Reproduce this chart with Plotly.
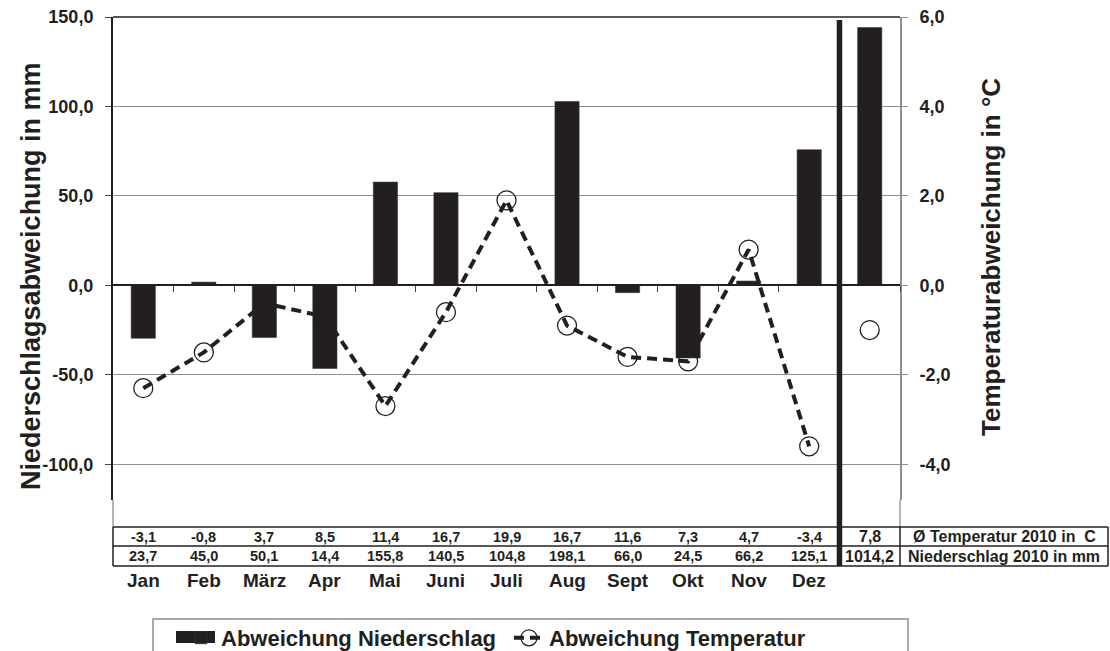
import plotly.graph_objects as go

# ---------------- data ----------------
months = ["Jan", "Feb", "März", "Apr", "Mai", "Juni", "Juli", "Aug", "Sept", "Okt", "Nov", "Dez"]
precip_dev = [-29.6, 1.8, -29.2, -46.5, 57.7, 51.8, 0.4, 102.8, -4.1, -40.6, 2.4, 75.8]
precip_dev_year = 144.1
temp_dev = [-2.3, -1.5, -0.4, -0.7, -2.7, -0.6, 1.9, -0.9, -1.6, -1.7, 0.8, -3.6]
temp_dev_year = -1.0
temp_2010 = [-3.1, -0.8, 3.7, 8.5, 11.4, 16.7, 19.9, 16.7, 11.6, 7.3, 4.7, -3.4]
temp_2010_year = 7.8
precip_2010 = [23.7, 45.0, 50.1, 14.4, 155.8, 140.5, 104.8, 198.1, 66.0, 24.5, 66.2, 125.1]
precip_2010_year = 1014.2
row_labels = ["Ø Temperatur 2010 in\u00a0\u00a0C", "Niederschlag 2010 in mm"]
left_tickvals = [150, 100, 50, 0, -50, -100]
right_tickvals = [6, 4, 2, 0, -2, -4]
series_names = ["Abweichung Niederschlag", "Abweichung Temperatur"]
y_titles = ["Niederschlagsabweichung in mm", "Temperaturabweichung in °C"]

# ---------------- layout geometry ----------------
W, H = 1110, 651
PL, PR, PT, PB = 113, 900, 17, 500          # plot area in pixels
YR = [-120, 150]
Y2R = [-4.8, 6]
n_cat = len(months) + 1
XR = [-0.5, n_cat - 0.5]

FONT = "Liberation Sans, Arial, sans-serif"
INK = "#231f20"
GRAY = "#8f8f8f"


def px_x(p):
    return (p - PL) / (PR - PL)


def px_y(p):
    return (PB - p) / (PB - PT)


def fmt(v):
    return f"{v:.1f}".replace(".", ",")


cats = list(range(n_cat))

fig = go.Figure()

fig.add_trace(go.Bar(
    x=cats,
    y=precip_dev + [precip_dev_year],
    width=0.4,
    marker=dict(color=INK, line=dict(color="#3a3a3a", width=0.6)),
    name=series_names[0],
))

marker_style = dict(symbol="circle-open", size=19, color=INK, line=dict(width=1.3))

fig.add_trace(go.Scatter(
    x=cats[:len(months)],
    y=temp_dev,
    yaxis="y2",
    mode="lines+markers",
    line=dict(color=INK, width=4, dash="10px,6px"),
    marker=marker_style,
    name=series_names[1],
))

fig.add_trace(go.Scatter(
    x=[cats[-1]],
    y=[temp_dev_year],
    yaxis="y2",
    mode="markers",
    marker=marker_style,
    showlegend=False,
))

# ---------------- shapes ----------------
shapes = []
line_k = dict(color=INK, width=1.5)
# top border
shapes.append(dict(type="line", xref="paper", yref="paper", x0=0, x1=1, y0=1, y1=1, line=line_k))
# axis extensions down to the table
for xp in (0, 1):
    shapes.append(dict(type="line", xref="paper", yref="paper", x0=xp, x1=xp,
                       y0=px_y(PB), y1=px_y(527), line=dict(color=GRAY, width=1.3)))
# table horizontal lines
for yy in (527, 546, 566):
    shapes.append(dict(type="line", xref="paper", yref="paper", x0=0, x1=px_x(1108),
                       y0=px_y(yy), y1=px_y(yy), line=line_k))
# table vertical lines
for xx in (PL, PR, 1108):
    shapes.append(dict(type="line", xref="paper", yref="paper", x0=px_x(xx), x1=px_x(xx),
                       y0=px_y(527), y1=px_y(566), line=line_k))
# thick separator between months and the year column
sep = (len(months)) / n_cat
shapes.append(dict(type="line", xref="paper", yref="paper", x0=sep, x1=sep,
                   y0=px_y(20), y1=px_y(566), line=dict(color=INK, width=5.5)))
# legend frame
shapes.append(dict(type="rect", xref="paper", yref="paper", x0=px_x(153), x1=px_x(908),
                   y0=px_y(619), y1=px_y(680), line=dict(color=GRAY, width=1.5)))
# wide swatch for the bar legend entry (as in the original legend)
shapes.append(dict(type="rect", xref="paper", yref="paper", x0=px_x(176), x1=px_x(215),
                   y0=px_y(643), y1=px_y(631), line=dict(width=0), fillcolor=INK))

# ---------------- annotations ----------------
ann = []
for i, m in enumerate(months):
    ann.append(dict(x=i, y=px_y(580), xref="x", yref="paper", text=m, showarrow=False,
                    xanchor="center", yanchor="middle",
                    font=dict(family=FONT, size=19, color=INK, weight="bold")))
row_y = [px_y(536.5), px_y(556)]
for r, (vals, yv, year_val) in enumerate([(temp_2010, row_y[0], temp_2010_year),
                                          (precip_2010, row_y[1], precip_2010_year)]):
    for i, v in enumerate(vals):
        ann.append(dict(x=i, y=yv, xref="x", yref="paper", text=fmt(v), showarrow=False,
                        xanchor="center", yanchor="middle",
                        font=dict(family=FONT, size=14.5, color=INK, weight="bold")))
    ann.append(dict(x=len(vals), y=yv, xref="x", yref="paper", text=fmt(year_val), showarrow=False,
                    xanchor="center", yanchor="middle",
                    font=dict(family=FONT, size=16, color=INK, weight="bold")))
    ann.append(dict(x=px_x(1004), y=yv, xref="paper", yref="paper", text=row_labels[r],
                    showarrow=False, xanchor="center", yanchor="middle",
                    font=dict(family=FONT, size=16, color=INK, weight="bold")))
# axis titles
ann.append(dict(x=px_x(31), y=px_y(276), xref="paper", yref="paper", text=y_titles[0],
                showarrow=False, textangle=-90, xanchor="center", yanchor="middle",
                font=dict(family=FONT, size=27, color=INK, weight="bold")))
ann.append(dict(x=px_x(991), y=px_y(257), xref="paper", yref="paper", text=y_titles[1],
                showarrow=False, textangle=-90, xanchor="center", yanchor="middle",
                font=dict(family=FONT, size=26, color=INK, weight="bold")))

tickfont = dict(family=FONT, size=18, color=INK, weight="bold")

fig.update_layout(
    width=W, height=H,
    margin=dict(l=PL, r=W - PR, t=PT, b=H - PB, autoexpand=False),
    paper_bgcolor="white", plot_bgcolor="white",
    showlegend=True,
    xaxis=dict(range=XR, anchor="free", position=(0 - YR[0]) / (YR[1] - YR[0]),
               showline=True, linecolor=INK, linewidth=1.5,
               ticks="outside", ticklen=6, tickwidth=1, tickcolor="#444",
               tickvals=[c + 0.5 for c in cats], showticklabels=False,
               showgrid=False, zeroline=False, fixedrange=True),
    yaxis=dict(range=YR, tickvals=left_tickvals, ticktext=[fmt(v) for v in left_tickvals],
               showline=True, linecolor=INK, linewidth=2,
               ticks="outside", ticklen=6, tickcolor="#444",
               showgrid=True, gridcolor=GRAY, gridwidth=1, zeroline=False,
               tickfont=tickfont, ticklabelstandoff=8),
    yaxis2=dict(range=Y2R, overlaying="y", side="right", anchor="x",
                tickvals=right_tickvals, ticktext=[fmt(v) for v in right_tickvals],
                showline=True, linecolor=GRAY, linewidth=2,
                ticks="outside", ticklen=6, tickcolor=GRAY,
                showgrid=False, zeroline=False,
                tickfont=tickfont, ticklabelstandoff=8),
    legend=dict(orientation="h", x=px_x(181), xanchor="left", y=px_y(617), yanchor="top",
                bgcolor="rgba(0,0,0,0)", borderwidth=0,
                font=dict(family=FONT, size=22, color=INK, weight="bold"),
                entrywidth=283, entrywidthmode="pixels", itemwidth=30, traceorder="normal"),
    shapes=shapes,
    annotations=ann,
)

fig.write_html("out.html",
               config={"displayModeBar": False},
               post_script="document.body.style.margin='0px';document.body.style.padding='0px';")
